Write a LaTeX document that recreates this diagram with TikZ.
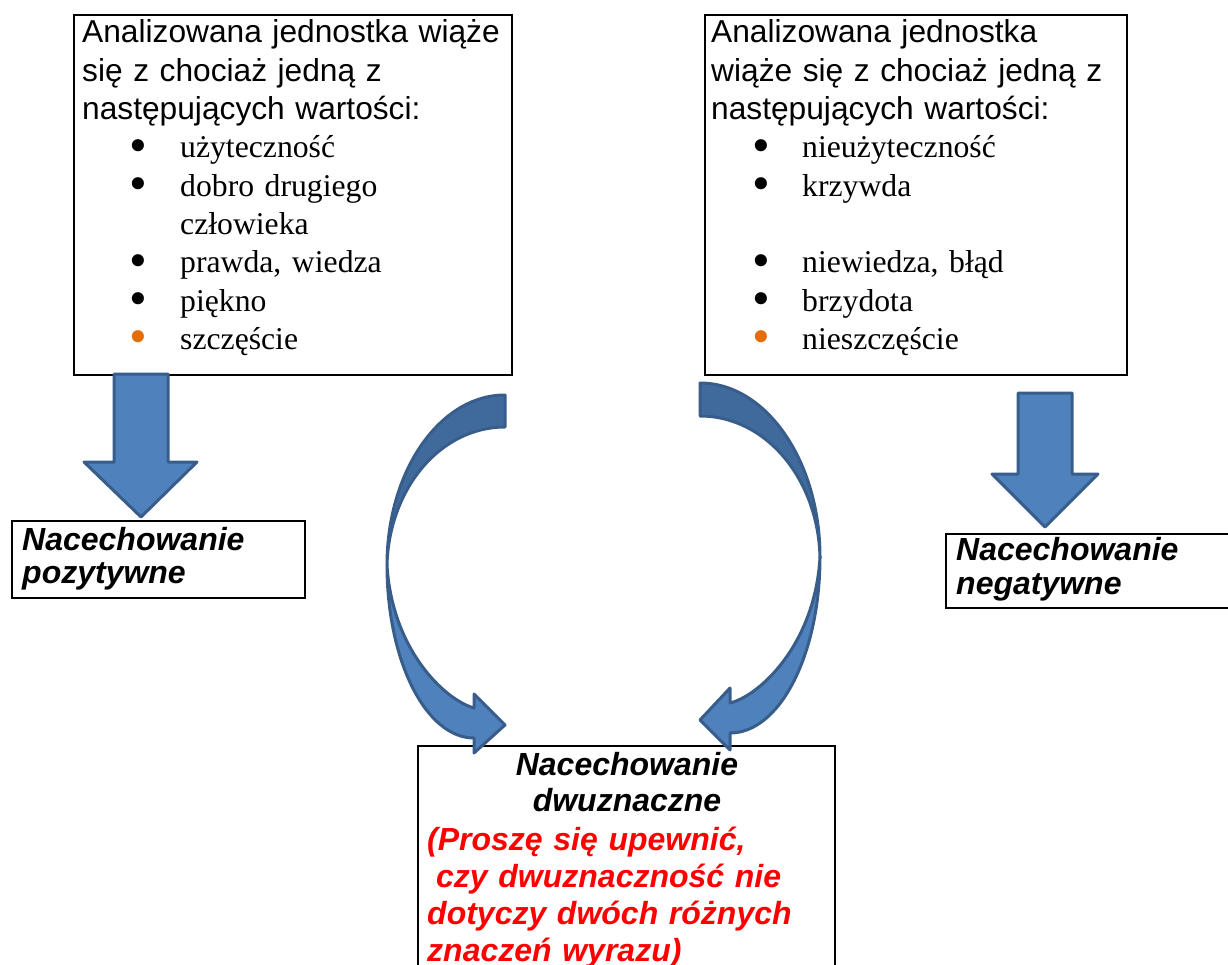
\documentclass[tikz,border=0pt]{standalone}
\usepackage{fontspec}
\usepackage{graphicx}
\setmainfont{Liberation Serif}
\setsansfont{Liberation Sans}
\definecolor{niebieski}{HTML}{4F81BD}
\definecolor{granat}{HTML}{385D8A}
\definecolor{tyl}{HTML}{416A9C}
\definecolor{pomarancz}{HTML}{E46C0A}
\newcommand\kropka[1][black]{\makebox[0pt]{\smash{\raisebox{-4.5pt}{\scalebox{1.6}{\textcolor{#1}{\textbullet}}}}}}
\begin{document}
\begin{tikzpicture}[x=1pt,y=-1pt,
  ramka/.style={draw,line width=2pt,rectangle,inner sep=0pt,anchor=north west},
  tekst/.style={inner sep=0pt,anchor=base west,align=left},
  duzy/.style={font=\fontsize{31.7}{38.3}\selectfont},
  haslo/.style={font=\fontsize{32}{#1}\selectfont\sffamily\bfseries\itshape},
  blok/.style={fill=niebieski,draw=granat,line width=3pt,line join=round}]
\useasboundingbox (0,0) rectangle (1228,965);
\node[ramka,minimum width=438pt,minimum height=360pt] (lewy) at (73,14) {};
\node[ramka,minimum width=422pt,minimum height=360pt] (prawy) at (704,14) {};
\node[ramka,minimum width=293pt,minimum height=77pt] (poz) at (11,520) {};
\node[ramka,minimum width=300pt,minimum height=74pt] (neg) at (945,533) {};
\node[ramka,minimum width=417pt,minimum height=260pt] (dwu) at (417,745) {};
\node[tekst,duzy,text width=425pt] (opisL) at (82,43) {{\sffamily Analizowana jednostka wiąże\\
się z chociaż jedną z\\
następujących wartości:}\\
\hspace*{56pt}\kropka\hspace*{42pt}użyteczność\\
\hspace*{56pt}\kropka\hspace*{42pt}dobro drugiego\\
\hspace*{98pt}człowieka\\
\hspace*{56pt}\kropka\hspace*{42pt}prawda, wiedza\\
\hspace*{56pt}\kropka\hspace*{42pt}piękno\\
\hspace*{56pt}\kropka[pomarancz]\hspace*{42pt}szczęście};
\node[tekst,duzy,text width=410pt] (opisP) at (711,43) {{\sffamily Analizowana jednostka\\
wiąże się z chociaż jedną z\\
następujących wartości:}\\
\hspace*{50pt}\kropka\hspace*{41pt}nieużyteczność\\
\hspace*{50pt}\kropka\hspace*{41pt}krzywda\\
\mbox{}\\
\hspace*{50pt}\kropka\hspace*{41pt}niewiedza, błąd\\
\hspace*{50pt}\kropka\hspace*{41pt}brzydota\\
\hspace*{50pt}\kropka[pomarancz]\hspace*{41pt}nieszczęście};
\node[tekst,haslo=33,text width=280pt] (pozT) at (22,550) {Nacechowanie\\pozytywne};
\node[tekst,haslo=34,text width=270pt] (negT) at (956,560) {Nacechowanie\\negatywne};
\node[tekst,haslo=36.5,text width=400pt,align=center,anchor=base] (dwuT) at (627,775) {Nacechowanie\\dwuznaczne};
\node[tekst,haslo=37,text width=400pt,text=red] (uwaga) at (427,850) {(Proszę się upewnić,\\
\hspace*{9pt}czy dwuznaczność nie\\
dotyczy dwóch różnych\\
znaczeń wyrazu)};
\draw[blok] (114,374) -- (168,374) -- (168,462) -- (197,462) -- (141,517) -- (84,462) -- (114,462) -- cycle;
\draw[blok] (1018,393) -- (1072,393) -- (1072,474) -- (1098,474) -- (1045,527) -- (992,474) -- (1018,474) -- cycle;
\draw[blok,fill=tyl] (505,395) .. controls (440,395) and (387,471) .. (387,565) .. controls (389,489) and (440,427) .. (505,427) -- cycle;
\draw[blok] (387,565) .. controls (387,661) and (426,738) .. (474,738) -- (474,753) -- (505,725) -- (474,694) -- (474,708) .. controls (445,700) and (392,650) .. (387,565) -- cycle;
\draw[blok,fill=tyl] (700,383) .. controls (766,383) and (820,461) .. (820,557) .. controls (818,479) and (766,416) .. (700,416) -- cycle;
\draw[blok] (820,557) .. controls (820,654) and (780,733) .. (730,733) -- (730,750) -- (700,720) -- (730,688) -- (730,703) .. controls (759,696) and (815,645) .. (820,557) -- cycle;
\end{tikzpicture}
\end{document}
